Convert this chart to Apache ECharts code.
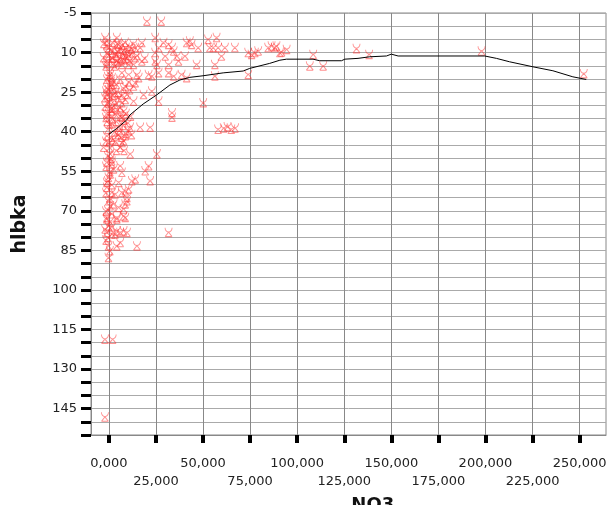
<!DOCTYPE html>
<html>
<head>
<meta charset="utf-8">
<script src="https://cdn.jsdelivr.net/npm/echarts@6/dist/echarts.min.js"></script>
<style>html,body{margin:0;padding:0;background:#fff}#c{width:611px;height:505px}</style>
</head>
<body>
<div id="c"></div>
<script>
// Scatter data: NO3 (x) and hlbka (y)
const no3 = [
20.2,27.8,
-2,-1.1,-2.7,4.2,5.2,7,9,11,12,14,8,10,17.5,16.6,24.6,26.4,29,31.7,33.5,34.4,-1,0,2,1,-1,3,6,13,
41.3,43,43.9,47.4,52.7,53.6,55.4,57.2,58,61.6,66.9,74,75.8,77.5,79.3,84.6,86.4,88.1,89,90.8,94.4,91.7,
40.4,59.8,-2.8,-1.1,1.6,4.2,6.9,10.5,13.1,17.5,14,24.6,24.6,25.5,29.9,31.7,36.1,37,0,2,4,6,8,-1,3,5,9,11,15,19,46.6,56.3,108.5,106.7,113.8,131.5,138.2,197.9,252.2,
0.7,1.6,2.5,6.9,10.5,14.9,15.8,21.1,22.8,26.4,31.7,34.4,38.6,41.3,56.3,74,-1,1,
0.7,2.5,3.3,-1.1,8.7,14,13.1,18.4,22.8,26.4,33.5,-1.1,-0.2,-2,1.6,3.3,6.9,7.8,6,9.6,8.7,13.1,50.1,0,2,4,5,-2,3,1,0,-1.1,3.3,
6.9,33.5,2,4,-1,6,9,1.6,5.2,11.2,16.6,21.9,3,5,-1.1,8.7,10.5,7.8,2,7,0,4,8,-2.8,6,11.3,25.5,0.7,1,58,61,63,65,67,
-1.1,1.6,2.5,6,0.7,-0.2,6.9,19.3,21.1,12.2,14,21.9,-1.1,-1.1,5.2,1.6,3.3,6.9,8.7,10.5,9.6,-0.2,0.7,2.5,5.2,8.7,7.8,9.6,
-1.1,4.2,8.7,-1.1,4.2,7.8,-2,-1.1,1.6,4.2,6,7.8,9.6,3.3,-0.2,31.7,-0.2,4.2,6,14.9,-0.2,
-2.1,2,-2.1,
-1.5,0.5,-0.5,1.5,-1.5,0.5,-0.5,1.5,-1.5,0.5,-0.5,1.5,-1.5,0.5,-0.5,1.5,-1.5,0.5,-0.5,1.5,-1.5,0.5,-0.5,1.5,-1.5,0.5,-0.5,1.5,-1.5,0.5,
4.5,8,10,5.5,9,12,3.5,6.5,11.5,7.5,
3.5,5,7.5,9.5,12.5,4.5,8.5,10.5,6.5,2.5,
6,8,11,5,10.5,7
];
const hlbka = [
-2,-2,
4.2,5.6,6.4,4.2,6.8,7,8,7.5,8.5,8,9,9.5,6.1,8,4.2,8,6.1,6.8,8,9.3,7,8,6,9,10,8.5,8.5,6.5,
6.1,5.5,6.8,8,4.9,8,8,4.2,8,8,8,9.9,10.6,9.9,9.3,8,7.4,8,7.4,9.9,8.7,9.7,
11.2,11.2,11.8,13.1,11.8,13.1,14.4,14.4,14.4,13.1,11.8,9.9,13.1,14.4,11.2,14.4,11.2,13.1,11,12,11,12,12.5,14,15,13.5,11,13,11,12,14.4,14.4,10.6,15,15,8.4,10.6,9.3,17.9,
18.2,19.4,20.7,17.5,18.2,18.2,19.4,18.2,18.8,17.5,17.5,18.8,18.2,19.4,18.8,18.2,20,21,
22.6,23.9,25.1,23.2,22.6,21.3,22.6,25.8,24.5,28.3,32.7,25.8,28.3,30.2,30.8,29.6,28.9,32.1,30.8,25.8,27.7,28.3,28.9,24,26,22,25,27,28,31,33,33.1,33.1,
34.4,34.4,35,36,36,34,33,36.9,38.2,38.2,38.2,38.2,40,41,41.4,41.4,39.5,43.3,43,44,44,47,47,45.8,45.8,48.3,48.3,48.3,50,39,38.5,38,39,38.5,
51.5,52.1,54,52.8,55.9,57.2,55.3,54.7,52.8,58.5,57.8,58.5,59.1,61,59.1,62.9,63.5,62.9,62.3,61.6,64.8,66.1,68,67.3,68.6,67.3,69.2,66.1,
72.4,72.4,72.4,73,73,71.8,76.8,78.1,78.7,77.5,78.1,77.5,78.1,78.7,75.6,78.1,83.2,83.2,81.9,83.2,87.6,
118.6,118.6,148.1,
15,17,19,22,24.5,26.5,29,32,34.5,37,39,42,43.5,46,49,51,53,55,58.5,60,63,65,69.5,71,70,74,80,76,81,85,
31.5,35.5,36.5,39.5,40.5,41,43.5,42,34,37.5,
10,9.5,10.5,12,10,6.5,6,11,13,14,
20,23.5,24,27,21,26
];
// Fit line
const fitX = [0,4.1,9.4,11.1,18.2,25.3,32.4,37.7,43,50,60.7,71.3,74.8,85.4,90.8,94.3,108.4,112,123.5,125.3,132.3,138.5,147.4,150,153.6,199.6,205.8,212.8,225.2,235.8,246.4,253.5];
const fitY = [41,38.8,35.6,33.7,29.5,26.1,22.3,20.4,19.4,18.8,17.7,17.0,16.0,14.1,12.9,12.5,12.5,13.1,13.1,12.5,12.2,11.6,11.3,10.6,11.3,11.3,12.2,13.5,15.4,16.9,19.2,20.2];
const xTickStep = 25;
const yLabelValues = [-5,10,25,40,55,70,85,100,115,130,145];

const scatterData = no3.map((x, i) => [x, hlbka[i]]);
const fitData = fitX.map((x, i) => [x, fitY[i]]);

// layout: main plot frame
const L = 91, R = 5, T = 13, B = 70, W = 611;
const xMin = -9.5, xMax = 264;
const pxPerUnit = (W - L - R) / (xMax - xMin);
const tickGridLeft = L + (0 - xMin) * pxPerUnit;
const tickMax = 275;
const tickGridRight = W - tickGridLeft - tickMax * pxPerUnit;

const chart = echarts.init(document.getElementById('c'), null, {renderer: 'canvas'});
chart.setOption({
  animation: false,
  backgroundColor: '#fff',
  grid: [
    {left: L, right: R, top: T, bottom: B, show: true, borderColor: '#888', borderWidth: 1, backgroundColor: 'transparent', outerBoundsMode: 'none', containLabel: false},
    {left: tickGridLeft, right: tickGridRight, top: T, bottom: B, show: false, outerBoundsMode: 'none', containLabel: false}
  ],
  xAxis: [
    {
      gridIndex: 0, type: 'value', min: xMin, max: xMax,
      axisLine: {show: true, onZero: false, lineStyle: {color: '#888', width: 1}},
      axisTick: {show: false}, axisLabel: {show: false}, splitLine: {show: false}
    },
    {
      gridIndex: 1, type: 'value', min: 0, max: tickMax, interval: xTickStep,
      name: 'NO3', nameLocation: 'middle', nameGap: 60,
      nameTextStyle: {fontFamily: 'DejaVu Sans', fontWeight: 'bold', fontSize: 18, color: '#111', padding: [0, 0, 0, 10]},
      axisLine: {show: false, onZero: false},
      axisTick: {show: true, length: 8, lineStyle: {color: '#000', width: 4}},
      axisLabel: {
        margin: 20, fontFamily: 'DejaVu Sans', fontSize: 13, color: '#222', lineHeight: 18,
        formatter: v => {
          if (v > 250) return '';
          const t = v.toFixed(3).replace('.', ',');
          return (Math.round(v / xTickStep) % 2 === 1) ? '\n' + t : t;
        }
      },
      splitLine: {show: true, lineStyle: {color: '#888', width: 1}}
    }
  ],
  yAxis: [
    {
      gridIndex: 0, type: 'value', inverse: true, min: -5, max: 155, interval: 5,
      name: 'hlbka', nameLocation: 'middle', nameGap: 61,
      nameTextStyle: {fontFamily: 'DejaVu Sans', fontWeight: 'bold', fontSize: 19, color: '#111'},
      axisLine: {show: true, onZero: false, lineStyle: {color: '#888', width: 1}},
      axisTick: {show: true, length: 10, lineStyle: {color: '#000', width: 3}},
      axisLabel: {
        margin: 14, fontFamily: 'DejaVu Sans', fontSize: 13, color: '#222',
        formatter: v => yLabelValues.indexOf(v) >= 0 ? String(v) : ''
      },
      splitLine: {show: true, lineStyle: {color: '#aaa', width: 1}}
    },
    {gridIndex: 1, type: 'value', show: false, min: -5, max: 155, splitLine: {show: false}}
  ],
  series: [
    {
      type: 'scatter', xAxisIndex: 0, yAxisIndex: 0, data: scatterData,
      symbol: 'path://M1,0 Q1,4 5,5 Q9,4 9,0 M5,5 L1,10 M5,5 L9,10 M1,10 L9,10',
      symbolSize: [7, 9],
      itemStyle: {color: 'rgba(0,0,0,0)', borderColor: 'rgba(255,45,45,0.65)', borderWidth: 1},
      z: 3
    },
    {
      type: 'line', xAxisIndex: 0, yAxisIndex: 0, data: fitData, showSymbol: false, symbol: 'none',
      lineStyle: {color: '#000', width: 1}, z: 4
    }
  ]
});
</script>
</body>
</html>
